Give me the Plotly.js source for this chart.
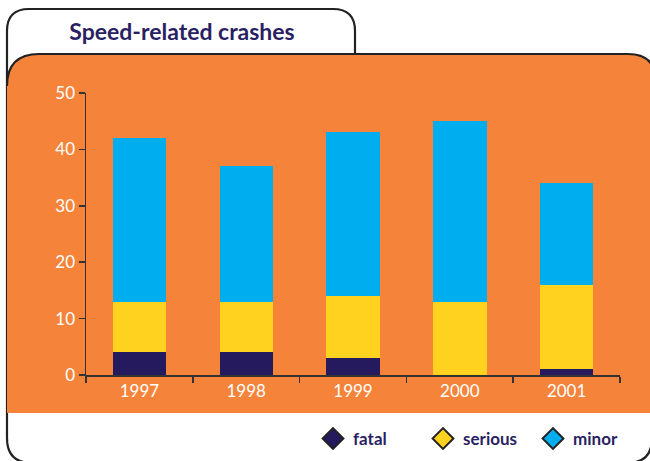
<!DOCTYPE html>
<html>
<head>
<meta charset="utf-8">
<script src="https://cdn.plot.ly/plotly-3.0.1.min.js"></script>
<style>html,body{margin:0;padding:0;background:#fff;}#chart{width:650px;height:461px;}</style>
</head>
<body>
<div id="chart"></div>
<script>
var years = ['1997', '1998', '1999', '2000', '2001'];
var fatal = [4, 4, 3, 0, 1];
var serious = [9, 9, 11, 13, 15];
var minor = [29, 24, 29, 32, 18];
var seriesNames = ['fatal', 'serious', 'minor'];
var seriesColors = ['#261A5E', '#FFD21F', '#00AEEF'];
var yTicks = [0, 10, 20, 30, 40, 50];

var W = 650, H = 461;
var M = {l: 86, r: 30, t: 93, b: 86, autoexpand: false};
var PW = W - M.l - M.r, PH = H - M.t - M.b;
function fx(x) { return ((x - M.l) / PW).toFixed(5); }
function fy(y) { return ((H - M.b - y) / PH).toFixed(5); }
function P(x, y) { return fx(x) + ',' + fy(y); }

// outer frame with tab
var framePath = 'M' + P(355, 60) + ' L' + P(355, 31) + ' Q' + P(355, 9) + ' ' + P(333, 9) +
  ' L' + P(29, 9) + ' Q' + P(7, 9) + ' ' + P(7, 31) + ' L' + P(7, 438) +
  ' Q' + P(7, 463) + ' ' + P(32, 463) + ' L' + P(627, 463) + ' Q' + P(652, 463) + ' ' + P(652, 438) +
  ' L' + P(652, 60);
// orange panel
var orangePath = 'M' + P(7, 413) + ' L' + P(7, 86) + ' Q' + P(7, 54) + ' ' + P(39, 54) +
  ' L' + P(628, 54) + ' Q' + P(656, 54) + ' ' + P(656, 82) + ' L' + P(656, 413) + ' Z';
var orangeLine = 'M' + P(7, 86) + ' Q' + P(7, 54) + ' ' + P(39, 54) +
  ' L' + P(628, 54) + ' Q' + P(656, 54) + ' ' + P(656, 82);

var values = [fatal, serious, minor];
var traces = [];
for (var i = 0; i < 3; i++) {
  traces.push({
    type: 'bar', x: years, y: values[i], name: seriesNames[i],
    marker: {color: seriesColors[i], line: {width: 0}},
    showlegend: false, hoverinfo: 'x+y+name'
  });
}
for (var j = 0; j < 3; j++) {
  traces.push({
    type: 'scatter', mode: 'markers', x: [null], y: [null], name: seriesNames[j],
    marker: {symbol: 'diamond', size: 16, color: seriesColors[j], line: {color: '#222', width: 2}},
    showlegend: true, hoverinfo: 'skip'
  });
}

var layout = {
  width: W, height: H,
  margin: M,
  paper_bgcolor: '#ffffff',
  plot_bgcolor: 'rgba(0,0,0,0)',
  barmode: 'stack',
  bargap: 0.5,
  font: {family: 'Lato, "Open Sans", sans-serif', color: '#ffffff'},
  title: {
    text: 'Speed-related crashes',
    font: {family: 'Lato, sans-serif', size: 23, color: '#2B1F63', weight: 700},
    xref: 'container', yref: 'container', x: 182 / W, xanchor: 'center', y: 1 - 32 / H, yanchor: 'middle'
  },
  xaxis: {
    type: 'category', showgrid: false, showline: true, linecolor: '#333', linewidth: 1.5,
    ticks: 'outside', tickson: 'boundaries', ticklen: 6, tickcolor: '#333', tickwidth: 1.5,
    tickfont: {size: 17, color: '#ffffff'}, zeroline: false, fixedrange: true
  },
  yaxis: {
    range: [0, 50], tickvals: yTicks, showgrid: false, showline: true, linecolor: '#333', linewidth: 1.5,
    ticks: 'outside', ticklen: 6, tickcolor: '#333', tickwidth: 1.5,
    tickfont: {size: 17, color: '#ffffff'}, zeroline: false, fixedrange: true
  },
  legend: {
    orientation: 'h', xref: 'paper', yref: 'paper', x: fx(313), xanchor: 'left', y: fy(439), yanchor: 'middle',
    font: {family: 'Lato, sans-serif', size: 17, color: '#2B1F63', weight: 700},
    bgcolor: 'rgba(0,0,0,0)', itemwidth: 30, traceorder: 'normal',
    entrywidth: 65, entrywidthmode: 'pixels'
  },
  shapes: [
    {type: 'path', xref: 'paper', yref: 'paper', layer: 'below', path: framePath,
     fillcolor: 'rgba(0,0,0,0)', line: {color: '#222', width: 2.2}},
    {type: 'path', xref: 'paper', yref: 'paper', layer: 'below', path: orangePath,
     fillcolor: '#F5843A', line: {width: 0}},
    {type: 'path', xref: 'paper', yref: 'paper', layer: 'below', path: orangeLine,
     fillcolor: 'rgba(0,0,0,0)', line: {color: '#222', width: 2.2}}
  ]
};

Plotly.newPlot('chart', traces, layout, {displayModeBar: false, staticPlot: true});
</script>
</body>
</html>
